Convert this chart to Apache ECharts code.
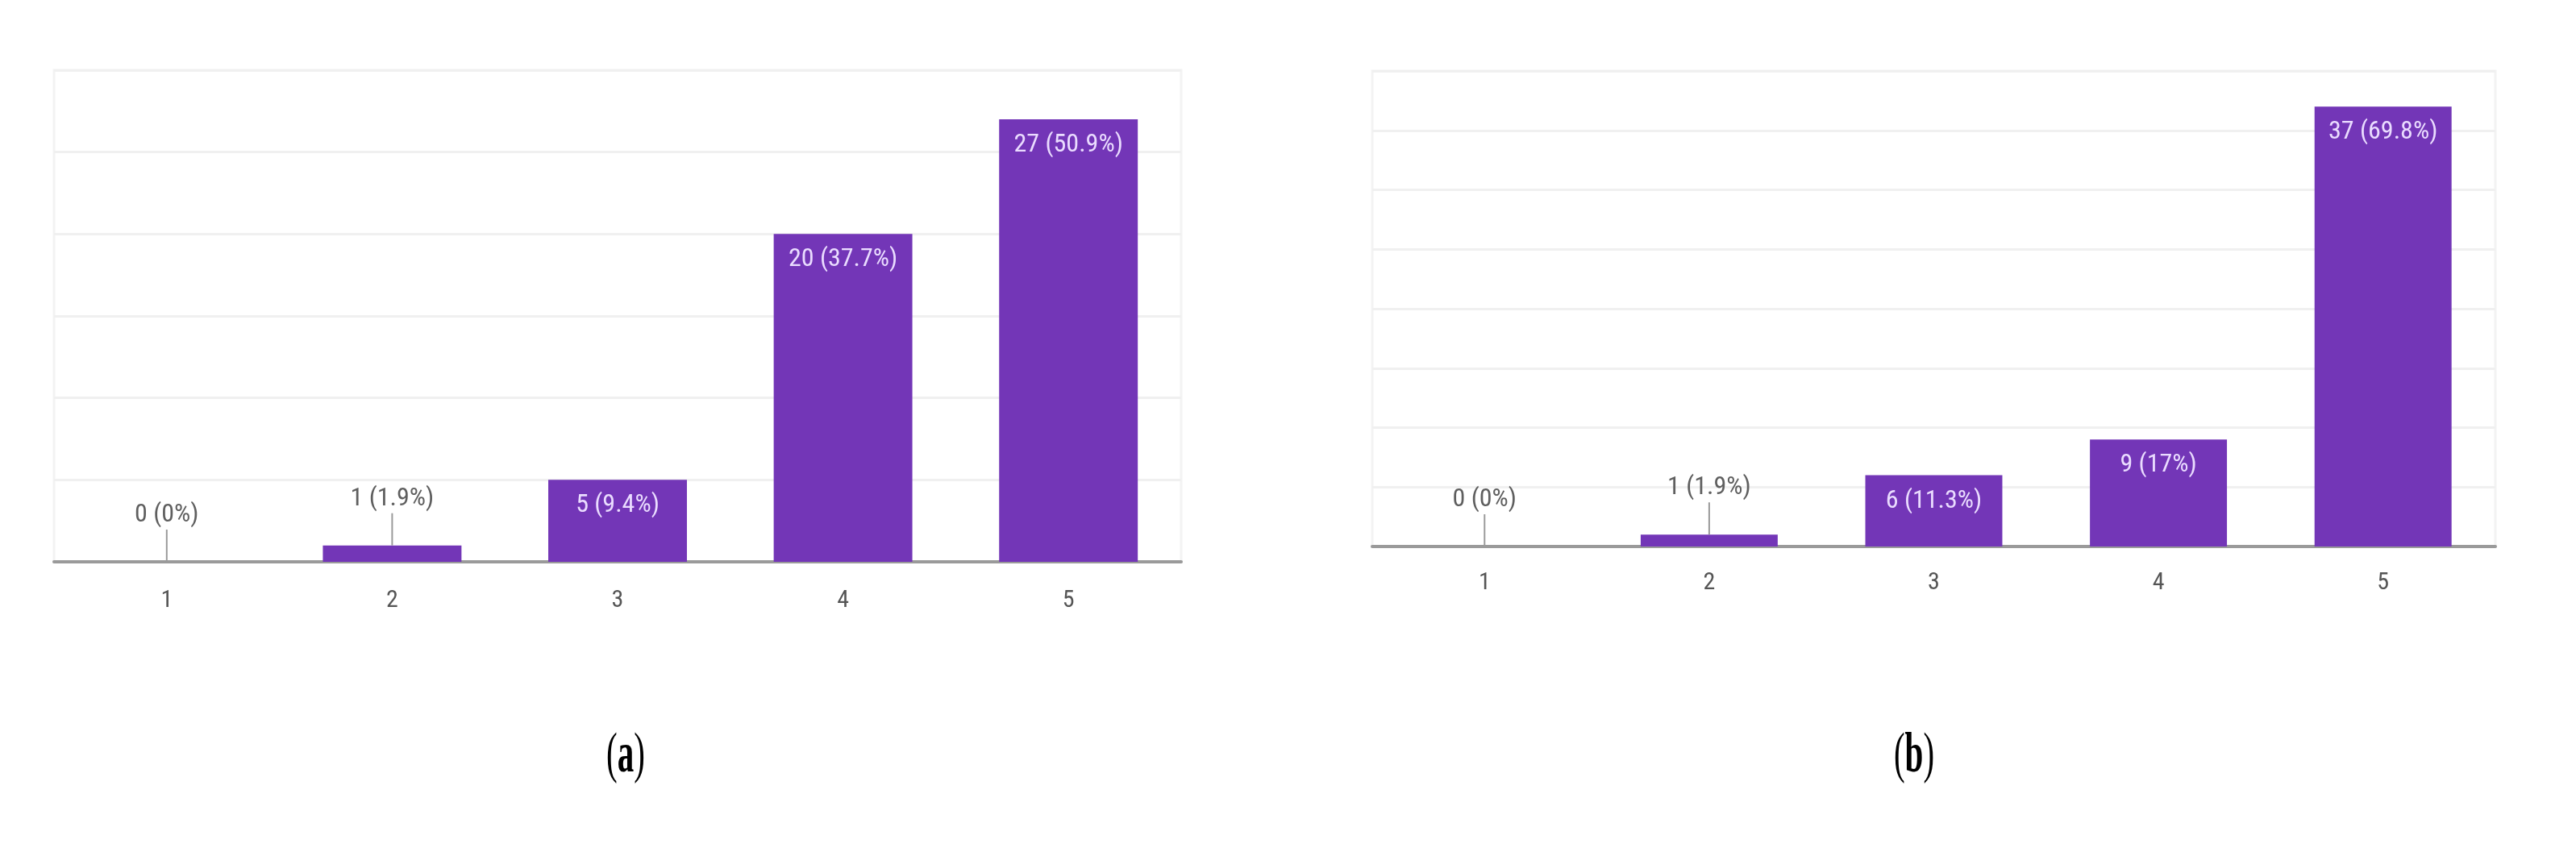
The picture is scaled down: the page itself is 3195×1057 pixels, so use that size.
<!DOCTYPE html>
<html>
<head>
<meta charset="utf-8">
<title>Likert responses</title>
<script src="https://cdn.jsdelivr.net/npm/echarts@6/dist/echarts.min.js"></script>
<style>
  html, body { margin: 0; padding: 0; background: #fff; }
  #chart { width: 3195px; height: 1057px; }
</style>
</head>
<body>
<div id="chart"></div>
<script>
// 数据
const categories = ['1', '2', '3', '4', '5']
const countsA = [0, 1, 5, 20, 27]
const pctA = ['0', '1.9', '9.4', '37.7', '50.9']
const countsB = [0, 1, 6, 9, 37]
const pctB = ['0', '1.9', '11.3', '17', '69.8']
const yMaxA = 30
const yMaxB = 40
const yStep = 5
const captions = ['a', 'b']

const purple = '#7336b7'
const labelFont = '"Roboto Condensed", "Roboto", sans-serif'

// small bars get their label above with a thin guide line
function isOutside (v) {
  return v < 3
}

function buildBars (counts, pct) {
  return counts.map((v, i) => {
    const out = isOutside(v)
    return {
      value: v,
      label: {
        show: true,
        position: out ? 'top' : 'insideTop',
        distance: out ? 42 : 16,
        color: out ? '#5f5f5f' : '#eadcff',
        fontSize: 32,
        fontFamily: labelFont,
        formatter: () => `${v} (${pct[i]}%)`
      }
    }
  })
}

function guideData (counts) {
  const arr = []
  counts.forEach((v, i) => {
    if (isOutside(v)) arr.push([i, v])
  })
  return arr
}

function guideSeries (counts, idx) {
  return {
    type: 'custom',
    xAxisIndex: idx,
    yAxisIndex: idx,
    silent: true,
    z: 3,
    data: guideData(counts),
    renderItem: (params, api) => {
      const p = api.coord([api.value(0), api.value(1)])
      return {
        type: 'line',
        shape: { x1: p[0], y1: p[1], x2: p[0], y2: p[1] - 40 },
        style: { stroke: '#9a9a9a', lineWidth: 2 }
      }
    }
  }
}

const grids = [
  { left: 67, right: 1730, top: 87, bottom: 360, show: true, borderColor: '#f3f3f3', borderWidth: 3 },
  { left: 1702, right: 100, top: 88, bottom: 379, show: true, borderColor: '#f3f3f3', borderWidth: 3 }
]

function xAxis (idx, margin) {
  return {
    type: 'category',
    gridIndex: idx,
    data: categories,
    axisTick: { show: false },
    axisLine: { lineStyle: { color: '#9a9a9a', width: 4 } },
    axisLabel: { color: '#555', fontSize: 30, fontFamily: labelFont, margin: margin }
  }
}

function yAxis (idx, max) {
  return {
    type: 'value',
    gridIndex: idx,
    min: 0,
    max: max,
    interval: yStep,
    axisLabel: { show: false },
    axisLine: { show: false },
    axisTick: { show: false },
    splitLine: { lineStyle: { color: '#f0f0f0', width: 3 } }
  }
}

function caption (letter, x) {
  return {
    type: 'text',
    x: x,
    y: 939,
    scaleY: 1.7,
    style: {
      text: `{p|(}{b|${letter}}{p|)}`,
      align: 'center',
      verticalAlign: 'middle',
      rich: {
        p: { fontFamily: 'Liberation Serif', fontSize: 41, fill: '#000' },
        b: { fontFamily: 'Liberation Serif', fontSize: 41, fontWeight: 'bold', fill: '#000' }
      }
    }
  }
}

const option = {
  animation: false,
  backgroundColor: '#fff',
  grid: grids,
  xAxis: [xAxis(0, 33), xAxis(1, 30)],
  yAxis: [yAxis(0, yMaxA), yAxis(1, yMaxB)],
  series: [
    {
      type: 'bar',
      xAxisIndex: 0,
      yAxisIndex: 0,
      barWidth: '61.5%',
      itemStyle: { color: purple },
      data: buildBars(countsA, pctA)
    },
    {
      type: 'bar',
      xAxisIndex: 1,
      yAxisIndex: 1,
      barWidth: '61%',
      itemStyle: { color: purple },
      data: buildBars(countsB, pctB)
    },
    guideSeries(countsA, 0),
    guideSeries(countsB, 1)
  ],
  graphic: [caption(captions[0], 776), caption(captions[1], 2374)]
}

const myChart = echarts.init(document.getElementById('chart'))
myChart.setOption(option)
</script>
</body>
</html>
